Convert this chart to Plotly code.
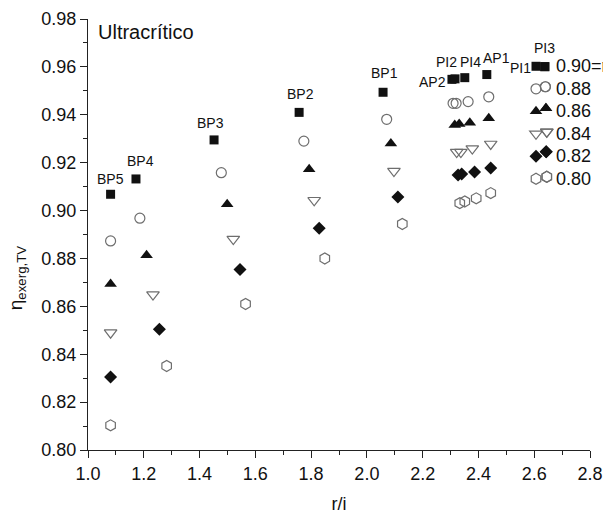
import plotly.graph_objects as go

# Configurations (point labels) shared by every efficiency series
configs = ["BP5", "BP4", "BP3", "BP2", "BP1", "AP2", "PI2", "PI4", "AP1", "PI1", "PI3"]

# Legend entries, one per turbine efficiency level
eta_levels = ["0.90=η", "0.88", "0.86", "0.84", "0.82", "0.80"]

# r/i and exergetic efficiency for each efficiency level
ri_090 = [1.081, 1.172, 1.452, 1.757, 2.058, 2.305, 2.316, 2.351, 2.430, 2.638, 2.638]
eta_090 = [0.9068, 0.9132, 0.9295, 0.9410, 0.9494, 0.9548, 0.9550, 0.9555, 0.9568, 0.9601, 0.9601]

ri_088 = [1.081, 1.186, 1.478, 1.774, 2.071, 2.309, 2.320, 2.363, 2.437, 2.640, 2.640]
eta_088 = [0.8873, 0.8968, 0.9158, 0.9290, 0.9381, 0.9448, 0.9448, 0.9455, 0.9475, 0.9517, 0.9517]

ri_086 = [1.081, 1.210, 1.499, 1.793, 2.086, 2.315, 2.331, 2.369, 2.437, 2.642, 2.642]
eta_086 = [0.8693, 0.8813, 0.9026, 0.9172, 0.9280, 0.9357, 0.9361, 0.9367, 0.9385, 0.9427, 0.9427]

ri_084 = [1.081, 1.233, 1.521, 1.811, 2.097, 2.322, 2.337, 2.378, 2.444, 2.645, 2.645]
eta_084 = [0.8490, 0.8649, 0.8881, 0.9043, 0.9165, 0.9244, 0.9244, 0.9259, 0.9278, 0.9329, 0.9329]

ri_082 = [1.081, 1.256, 1.545, 1.829, 2.111, 2.327, 2.340, 2.386, 2.444, 2.643, 2.643]
eta_082 = [0.8305, 0.8504, 0.8754, 0.8926, 0.9057, 0.9148, 0.9153, 0.9161, 0.9178, 0.9246, 0.9246]

ri_080 = [1.081, 1.282, 1.565, 1.849, 2.127, 2.333, 2.351, 2.392, 2.444, 2.645, 2.645]
eta_080 = [0.8103, 0.8351, 0.8610, 0.8800, 0.8944, 0.9031, 0.9038, 0.9051, 0.9073, 0.9141, 0.9141]

x_ticks = [1.0, 1.2, 1.4, 1.6, 1.8, 2.0, 2.2, 2.4, 2.6, 2.8]
y_ticks = [0.80, 0.82, 0.84, 0.86, 0.88, 0.90, 0.92, 0.94, 0.96, 0.98]

FONT = "Liberation Sans, Arial, sans-serif"
BLACK = "#111111"
GRAY = "#6e6e6e"

series = [
    (ri_090, eta_090, dict(symbol="square", size=9, color=BLACK, line=dict(width=0))),
    (ri_088, eta_088, dict(symbol="circle-open", size=10, color=GRAY, line=dict(width=1.2, color=GRAY))),
    (ri_086, eta_086, dict(symbol="triangle-up", size=11, color=BLACK, line=dict(width=0))),
    (ri_084, eta_084, dict(symbol="triangle-down-open", size=11, color=GRAY, line=dict(width=1.2, color=GRAY))),
    (ri_082, eta_082, dict(symbol="diamond", size=10, color=BLACK, line=dict(width=0))),
    (ri_080, eta_080, dict(symbol="hexagon-open", size=11, color=GRAY, line=dict(width=1.2, color=GRAY))),
]

fig = go.Figure()
for name, (xs, ys, marker) in zip(eta_levels, series):
    fig.add_trace(go.Scatter(x=xs, y=ys, mode="markers",
                             name='<span style="font-size:18px">%s</span>' % name,
                             marker=marker, text=configs, cliponaxis=False))

# Configuration labels placed next to the 0.90 (square) points, offsets in px
label_offsets = {
    "BP5": (0, 15), "BP4": (5, 18), "BP3": (-4, 17), "BP2": (1, 18), "BP1": (1, 19),
    "AP2": (-19, -3), "PI2": (-9, 17), "PI4": (6, 16), "AP1": (10, 17),
    "PI1": (-24, -1), "PI3": (0, 19),
}
for name, xv, yv in zip(configs, ri_090, eta_090):
    dx, dy = label_offsets[name]
    fig.add_annotation(x=xv, y=yv, text=name, showarrow=False,
                       xshift=dx, yshift=dy,
                       font=dict(family=FONT, size=14, color=BLACK))

fig.add_annotation(xref="paper", yref="paper", x=0.015, y=1.0, xanchor="left", yanchor="top",
                   text="Ultracrítico", showarrow=False,
                   font=dict(family=FONT, size=20, color=BLACK))

fig.add_annotation(xref="paper", yref="paper", x=-0.142, y=0.40, xanchor="center", yanchor="middle",
                   textangle=-90, text="η<sub>exerg,TV</sub>", showarrow=False,
                   font=dict(family=FONT, size=19, color=BLACK))

axis_common = dict(
    showline=True, linecolor="#222222", linewidth=1.3, mirror=False,
    ticks="outside", ticklen=7, tickwidth=1.3, tickcolor="#222222",
    showgrid=False, zeroline=False,
    tickfont=dict(family=FONT, size=18, color=BLACK),
)

fig.update_xaxes(range=[1.0, 2.8], tickvals=x_ticks, tickformat=".1f",
                 minor=dict(ticks="outside", ticklen=4, tickwidth=1.3, tickcolor="#222222", dtick=0.1, tick0=1.0),
                 title=dict(text="r/i", font=dict(family=FONT, size=18, color=BLACK), standoff=14),
                 **axis_common)
fig.update_yaxes(range=[0.80, 0.98], tickvals=y_ticks, tickformat=".2f",
                 minor=dict(ticks="outside", ticklen=4, tickwidth=1.3, tickcolor="#222222", dtick=0.01, tick0=0.80),
                 **axis_common)

fig.update_layout(
    width=603, height=518,
    margin=dict(l=88, r=13, t=19, b=68, autoexpand=False),
    paper_bgcolor="white", plot_bgcolor="white",
    font=dict(family=FONT, size=18, color=BLACK),
    legend=dict(x=0.8526, y=0.928, xanchor="left", yanchor="top",
                bgcolor="rgba(0,0,0,0)", borderwidth=0,
                font=dict(family=FONT, size=15, color=BLACK),
                tracegroupgap=0),
)

fig.write_html("out.html")
